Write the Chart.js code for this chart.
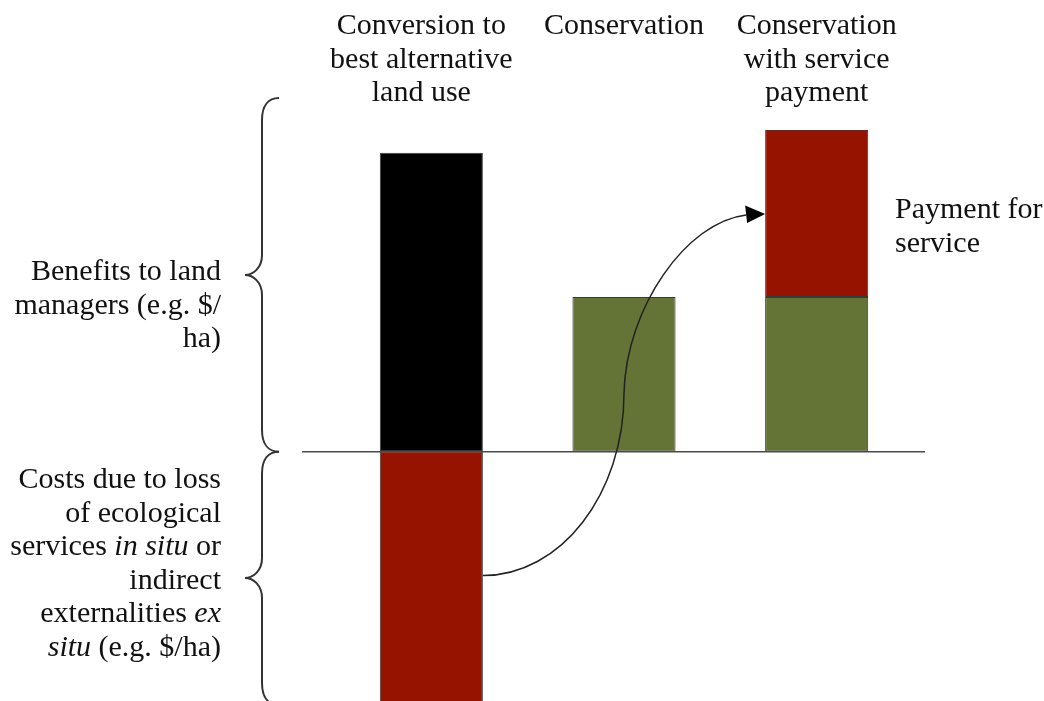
<!DOCTYPE html>
<html>
<head>
<meta charset="utf-8">
<script src="https://cdn.jsdelivr.net/npm/chart.js@4.4.1/dist/chart.umd.min.js"></script>
<style>
  html, body { margin: 0; padding: 0; background: #ffffff; }
  #wrap { width: 1044px; height: 701px; position: relative; }
</style>
</head>
<body>
<div id="wrap"><canvas id="c"></canvas></div>
<script>
// ---- data ----
const categories = ["Conversion to best alternative land use", "Conservation", "Conservation with service payment"];
const categoryLabelLines = [
  ["Conversion to", "best alternative", "land use"],
  ["Conservation"],
  ["Conservation", "with service", "payment"]
];
const benefitsToLandManagers = [10.13, 5.24, 5.24];
const paymentForService = [null, null, 5.66];
const costsLossOfServices = [-8.6, null, null];
const yMin = -8.45;
const yMax = 15.31;

const benefitsLabelLines = ["Benefits to land", "managers (e.g. $/", "ha)"];
const costsLabelLines = [
  [["Costs due to loss", false]],
  [["of ecological", false]],
  [["services ", false], ["in situ", true], [" or", false]],
  [["indirect", false]],
  [["externalities ", false], ["ex", true]],
  [["situ", true], [" (e.g. $/ha)", false]]
];
const paymentLabelLines = ["Payment for", "service"];

// ---- styles ----
const BLACK = "#000000";
const RED = "#961300";
const GREEN = "#647436";
const EDGE = "#3a3a3a";
const FONT = "'Liberation Serif', 'Times New Roman', serif";
const FS = 30;
const LH = 33.5;

function drawMixedRight(ctx, segs, xRight, y) {
  let total = 0;
  const widths = segs.map(([t, it]) => {
    ctx.font = (it ? "italic " : "") + FS + "px " + FONT;
    const w = ctx.measureText(t).width;
    total += w;
    return w;
  });
  let x = xRight - total;
  ctx.textAlign = "left";
  segs.forEach(([t, it], i) => {
    ctx.font = (it ? "italic " : "") + FS + "px " + FONT;
    ctx.fillText(t, x, y);
    x += widths[i];
  });
}

function brace(ctx, xs, xEnd, xTip, top, tip, bottom) {
  ctx.beginPath();
  ctx.moveTo(xEnd, top);
  ctx.bezierCurveTo(xs + 6, top, xs, top + 8, xs, top + 22);
  ctx.lineTo(xs, tip - 20);
  ctx.bezierCurveTo(xs, tip - 7, xTip + 8, tip, xTip, tip);
  ctx.bezierCurveTo(xTip + 8, tip, xs, tip + 7, xs, tip + 20);
  ctx.lineTo(xs, bottom - 22);
  ctx.bezierCurveTo(xs, bottom - 8, xs + 6, bottom, xEnd, bottom);
  ctx.stroke();
}

const decor = {
  id: "decor",
  afterDraw(chart) {
    const ctx = chart.ctx;
    const xs = chart.scales.x, ys = chart.scales.y;
    const ca = chart.chartArea;
    const y0 = ys.getPixelForValue(0);
    ctx.save();

    // baseline
    ctx.strokeStyle = "#4a4a4a";
    ctx.lineWidth = 1.5;
    ctx.beginPath();
    ctx.moveTo(ca.left - 33, y0);
    ctx.lineTo(ca.right + 12, y0);
    ctx.stroke();

    // category labels on top
    ctx.fillStyle = "#111";
    ctx.textBaseline = "alphabetic";
    ctx.textAlign = "center";
    ctx.font = FS + "px " + FONT;
    const offs = [-10, 0, 0];
    categoryLabelLines.forEach((lines, i) => {
      const cx = xs.getPixelForValue(i) + offs[i];
      lines.forEach((ln, j) => ctx.fillText(ln, cx, 34 + j * LH));
    });

    // left labels
    ctx.textAlign = "right";
    benefitsLabelLines.forEach((ln, j) => ctx.fillText(ln, 221, 280 + j * LH));
    costsLabelLines.forEach((segs, j) => drawMixedRight(ctx, segs, 221, 488 + j * LH));

    // payment label
    ctx.textAlign = "left";
    ctx.font = FS + "px " + FONT;
    paymentLabelLines.forEach((ln, j) => ctx.fillText(ln, 895, 218 + j * LH));

    // braces
    ctx.strokeStyle = "#333";
    ctx.lineWidth = 2;
    brace(ctx, 262, 279, 245, 98, 275, y0);
    brace(ctx, 262, 279, 245, y0, 578, 705);

    // arrow from cost bar to payment bar
    const m0 = chart.getDatasetMeta(2).data[0];
    const m2 = chart.getDatasetMeta(1).data[2];
    const mMid = chart.getDatasetMeta(0).data[1];
    const sx = m0.x + m0.width / 2, sy = ys.getPixelForValue(-4.2);
    const mx = mMid.x, my = ys.getPixelForValue(1.98);
    const ex = m2.x - m2.width / 2, ey = ys.getPixelForValue(8.06);
    const hx = ex - 19;
    ctx.strokeStyle = "#222";
    ctx.lineWidth = 1.5;
    ctx.beginPath();
    ctx.moveTo(sx, sy);
    ctx.bezierCurveTo(sx + 0.552 * (mx - sx), sy, mx, my + 0.552 * (sy - my), mx, my);
    ctx.bezierCurveTo(mx + 2, my - 85, hx - 60, ey + 8, hx, ey + 1);
    ctx.stroke();
    ctx.fillStyle = "#000";
    ctx.beginPath();
    ctx.moveTo(ex, ey);
    ctx.lineTo(hx - 1, ey - 8.5);
    ctx.lineTo(hx + 1, ey + 9);
    ctx.closePath();
    ctx.fill();

    ctx.restore();
  }
};

new Chart(document.getElementById("c"), {
  type: "bar",
  data: {
    labels: categories,
    datasets: [
      {
        label: "Benefits to land managers",
        data: benefitsToLandManagers,
        backgroundColor: [BLACK, GREEN, GREEN],
        borderColor: EDGE,
        borderWidth: 1,
        borderSkipped: false
      },
      {
        label: "Payment for service",
        data: paymentForService,
        backgroundColor: RED,
        borderColor: EDGE,
        borderWidth: 1,
        borderSkipped: false
      },
      {
        label: "Costs due to loss of ecological services",
        data: costsLossOfServices,
        backgroundColor: RED,
        borderColor: EDGE,
        borderWidth: 1,
        borderSkipped: false
      }
    ]
  },
  options: {
    responsive: true,
    maintainAspectRatio: false,
    animation: false,
    devicePixelRatio: 1,
    layout: { padding: { left: 335, right: 131, top: 0, bottom: 0 } },
    datasets: { bar: { barPercentage: 0.535, categoryPercentage: 1.0 } },
    scales: {
      x: { stacked: true, display: false },
      y: { stacked: true, display: false, min: yMin, max: yMax }
    },
    plugins: { legend: { display: false }, tooltip: { enabled: false } }
  },
  plugins: [decor]
});
</script>
</body>
</html>
